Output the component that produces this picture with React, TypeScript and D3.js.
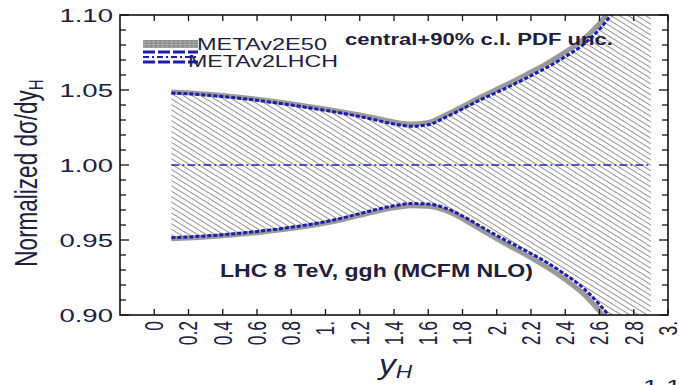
import React from "react";
import * as d3 from "d3";

// Rapidity grid and the 90% c.l. PDF envelopes, normalised to the central value
const rapidity = [0.1, 0.2, 0.3, 0.4, 0.5, 0.6, 0.7, 0.8, 0.9, 1.0, 1.1, 1.2, 1.3, 1.4, 1.5,
  1.6, 1.7, 1.8, 1.9, 2.0, 2.1, 2.2, 2.3, 2.4, 2.5, 2.6, 2.7, 2.8, 2.9];

const lhchUpper = [1.048, 1.0475, 1.0466, 1.0456, 1.0445, 1.0431, 1.0416, 1.04, 1.0382, 1.0364,
  1.0345, 1.0323, 1.0298, 1.0273, 1.0258, 1.0268, 1.0318, 1.0374, 1.0432, 1.0485, 1.0538, 1.0595,
  1.0655, 1.0722, 1.0798, 1.0905, 1.105, 1.122, 1.141];
const lhchLower = [0.9515, 0.952, 0.9527, 0.9535, 0.9545, 0.9557, 0.957, 0.9585, 0.9602, 0.9622,
  0.9647, 0.9676, 0.9704, 0.9728, 0.9743, 0.974, 0.9713, 0.966, 0.9595, 0.953, 0.947, 0.941,
  0.9345, 0.927, 0.9185, 0.907, 0.893, 0.877, 0.859];

const e50Upper = [1.0487, 1.0482, 1.0473, 1.0463, 1.0452, 1.0439, 1.0424, 1.0408, 1.0391, 1.0373,
  1.0354, 1.0334, 1.0311, 1.0287, 1.0273, 1.0284, 1.0333, 1.039, 1.045, 1.0505, 1.056, 1.062,
  1.0683, 1.0753, 1.0833, 1.0945, 1.11, 1.128, 1.148];
const e50Lower = [0.9508, 0.9513, 0.952, 0.9528, 0.9538, 0.9549, 0.9562, 0.9576, 0.9593, 0.9613,
  0.9637, 0.9664, 0.9691, 0.9714, 0.9729, 0.9725, 0.9697, 0.9642, 0.9575, 0.9508, 0.9445, 0.9382,
  0.9314, 0.9236, 0.9147, 0.9025, 0.888, 0.871, 0.852];

const xTicks = [0, 0.2, 0.4, 0.6, 0.8, 1, 1.2, 1.4, 1.6, 1.8, 2, 2.2, 2.4, 2.6, 2.8, 3];
const xTickLabels = ["0", "0.2", "0.4", "0.6", "0.8", "1.", "1.2", "1.4", "1.6", "1.8", "2.",
  "2.2", "2.4", "2.6", "2.8", "3."];
const yTicks = [0.9, 0.95, 1.0, 1.05, 1.1];
const yTickLabels = ["0.90", "0.95", "1.00", "1.05", "1.10"];
const legendLabels = ["METAv2E50", "METAv2LHCH"];

const W = 679;
const H = 385;
const plot = { left: 120, right: 668, top: 15, bottom: 315 };
const TEXT = "#1e2040";
const BLUE = "#1c1cb0";
const FONT = "'Liberation Sans', Arial, Helvetica, sans-serif";

type STextProps = {
  x: number; y: number; size: number; children: React.ReactNode;
  anchor?: "start" | "middle" | "end"; weight?: string; italic?: boolean;
  rotate?: number; len?: number; sx?: number; dy?: string; fill?: string;
};

// Text drawn with a horizontal stretch, as in the typeset figure
function SText({ x, y, size, children, anchor = "start", weight = "normal", italic = false,
  rotate, len, sx = 1.45, dy, fill = TEXT }: STextProps) {
  const t = `translate(${x},${y}) scale(${sx},1)` + (rotate !== undefined ? ` rotate(${rotate})` : "");
  return (
    <text transform={t} fontSize={size} textAnchor={anchor} fontWeight={weight}
      fontStyle={italic ? "italic" : "normal"} fontFamily={FONT} fill={fill} dy={dy}
      {...(len ? { textLength: len / sx, lengthAdjust: "spacingAndGlyphs" } : {})}>
      {children}
    </text>
  );
}

export default function App() {
  const x = d3.scaleLinear().domain([-0.2, 3]).range([plot.left, plot.right]);
  const y = d3.scaleLinear().domain([0.9, 1.1]).range([plot.bottom, plot.top]);

  const idx = rapidity.map((_, i) => i);
  const curve = d3.curveMonotoneX;
  const lineOf = (vals: number[]) =>
    d3.line<number>().x((i) => x(rapidity[i])).y((i) => y(vals[i])).curve(curve)(idx) || "";
  const band = d3.area<number>()
    .x((i) => x(rapidity[i]))
    .y0((i) => y(e50Lower[i]))
    .y1((i) => y(e50Upper[i]))
    .curve(curve)(idx) || "";

  const minorY = d3.range(0, 21).map((k) => 0.9 + k * 0.01);

  return (
    <svg width={W} height={H} style={{ position: "absolute", left: 0, top: 0, background: "#fff" }}>
      <defs>
        <clipPath id="plotClip">
          <rect x={plot.left} y={plot.top} width={plot.right - plot.left} height={plot.bottom - plot.top} />
        </clipPath>
        <pattern id="hatch" patternUnits="userSpaceOnUse" width={8} height={4.6} patternTransform="rotate(32)">
          <line x1={0} y1={2.3} x2={8} y2={2.3} stroke="#909090" strokeWidth={1} />
        </pattern>
      </defs>
      <rect x={0} y={0} width={W} height={H} fill="#fff" />

      <g clipPath="url(#plotClip)">
        <path d={band} fill="url(#hatch)" />
        {/* METAv2E50 band edges */}
        <path d={lineOf(e50Upper)} fill="none" stroke="#8a8a8a" strokeWidth={5} strokeOpacity={0.85} />
        <path d={lineOf(e50Lower)} fill="none" stroke="#8a8a8a" strokeWidth={5} strokeOpacity={0.85} />
        {/* METAv2LHCH envelope and central value */}
        <path d={lineOf(lhchUpper)} fill="none" stroke={BLUE} strokeWidth={3} strokeDasharray="4,2" />
        <path d={lineOf(lhchLower)} fill="none" stroke={BLUE} strokeWidth={3} strokeDasharray="4,2" />
        <line x1={x(rapidity[0])} x2={x(rapidity[rapidity.length - 1])} y1={y(1)} y2={y(1)}
          stroke="#2020c0" strokeWidth={1.3} strokeDasharray="8,3,2,3" />
      </g>

      {/* frame */}
      <rect x={plot.left} y={plot.top} width={plot.right - plot.left} height={plot.bottom - plot.top}
        fill="none" stroke="#111" strokeWidth={1.6} />

      {/* y ticks, both sides */}
      {minorY.map((v, k) => {
        const major = k % 5 === 0;
        const len = major ? 9 : 6;
        return (
          <g key={"yt" + k}>
            <line x1={plot.left} x2={plot.left + len} y1={y(v)} y2={y(v)} stroke="#111" strokeWidth={1.3} />
            <line x1={plot.right} x2={plot.right - len} y1={y(v)} y2={y(v)} stroke="#111" strokeWidth={1.3} />
          </g>
        );
      })}
      {yTicks.map((v, k) => (
        <SText key={"yl" + k} x={113} y={y(v) + 7} size={19} anchor="end">{yTickLabels[k]}</SText>
      ))}

      {/* x ticks, top and bottom */}
      {xTicks.map((v, k) => (
        <g key={"xt" + k}>
          <line x1={x(v)} x2={x(v)} y1={plot.bottom} y2={plot.bottom - 6} stroke="#111" strokeWidth={1.3} />
          <line x1={x(v)} x2={x(v)} y1={plot.top} y2={plot.top + 6} stroke="#111" strokeWidth={1.3} />
          <SText x={x(v)} y={321} size={17.5} anchor="end" rotate={-90} dy="0.35em">{xTickLabels[k]}</SText>
        </g>
      ))}

      {/* axis titles */}
      <SText x={37} y={173} size={22.5} anchor="middle" rotate={-90} sx={1.38}>
        Normalized dσ/dy<tspan fontSize={15} dy={4}>H</tspan>
      </SText>
      <SText x={379} y={374} size={28} italic sx={1.2}>
        y<tspan fontSize={19} dy={4}>H</tspan>
      </SText>

      {/* legend */}
      <rect x={143} y={40} width={55} height={8} fill="#8e8e8e" />
      {[42, 44.5, 47].map((yy, k) => (
        <line key={"lg" + k} x1={143} x2={198} y1={yy} y2={yy} stroke="#c8c8c8" strokeWidth={0.8} strokeDasharray="3,1.5" />
      ))}
      <line x1={143} x2={198} y1={52} y2={52} stroke={BLUE} strokeWidth={3} strokeDasharray="12,3" />
      <line x1={143} x2={198} y1={57} y2={57} stroke={BLUE} strokeWidth={2} strokeDasharray="6,3,2,3" />
      <line x1={143} x2={198} y1={62} y2={62} stroke={BLUE} strokeWidth={3} strokeDasharray="12,3" />
      <SText x={197} y={50} size={16} len={130}>{legendLabels[0]}</SText>
      <SText x={188} y={67} size={16.5} len={150}>{legendLabels[1]}</SText>

      {/* annotations */}
      <SText x={345} y={45} size={17} weight="bold" len={268}>central+90% c.l. PDF unc.</SText>
      <SText x={220} y={277} size={19} weight="bold" len={313}>LHC 8 TeV, ggh (MCFM NLO)</SText>

      {/* label of the neighbouring panel, cut by the page edge */}
      <SText x={643} y={393} size={19}>1.10</SText>
    </svg>
  );
}
